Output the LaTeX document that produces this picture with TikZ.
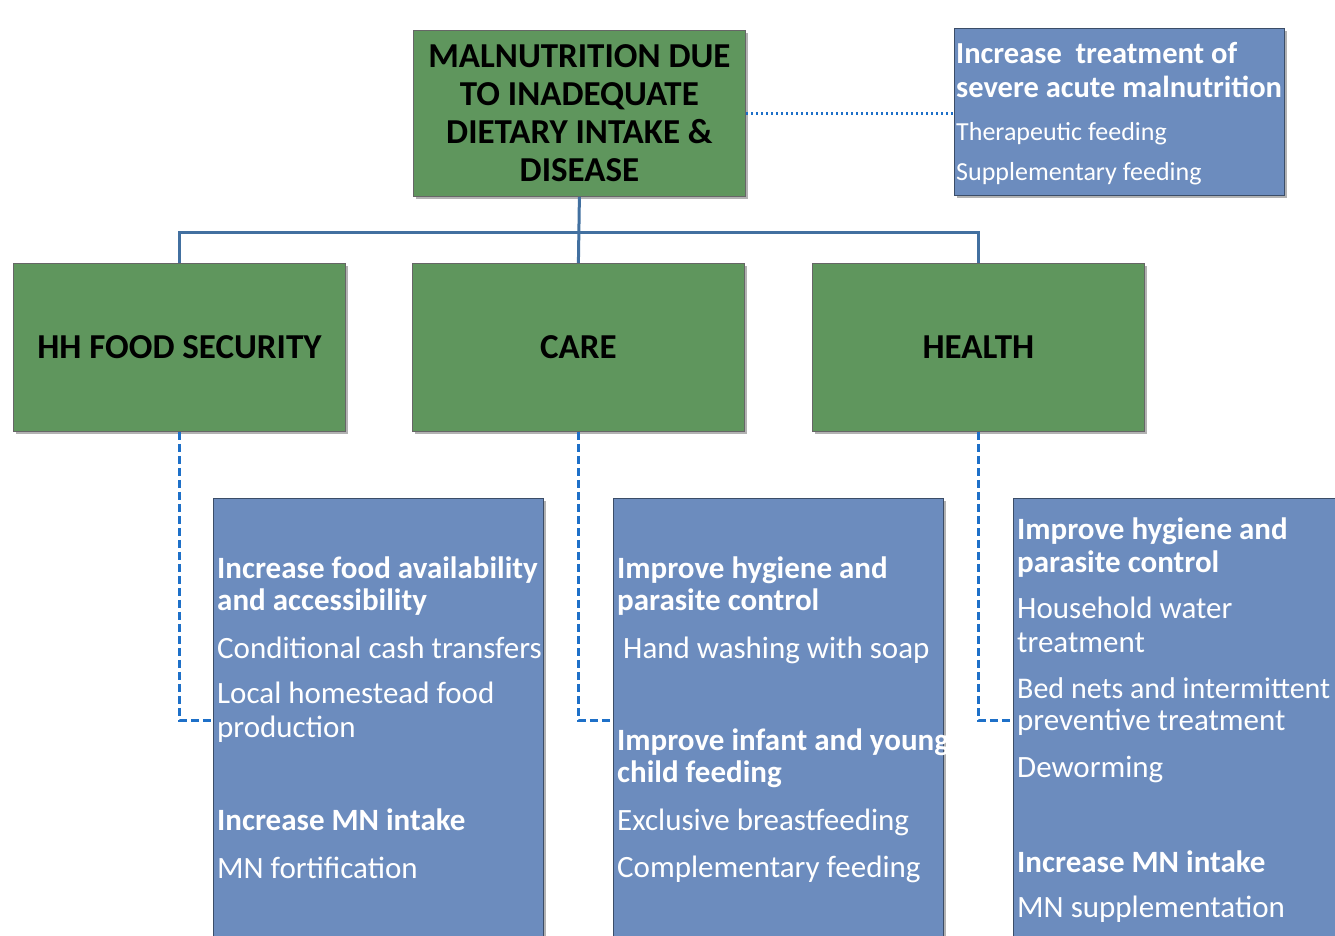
\documentclass[tikz,border=0pt]{standalone}
\usepackage{fontspec}
\setmainfont{Carlito}
\usetikzlibrary{shadows}

\definecolor{boxgreen}{RGB}{95,150,93}
\definecolor{boxblue}{RGB}{108,140,190}
\definecolor{treeline}{RGB}{66,112,160}
\definecolor{linkblue}{RGB}{30,112,200}

\tikzset{
  softshadow/.style={drop shadow={shadow xshift=3pt, shadow yshift=-3pt, fill=black, opacity=0.3}},
  greenbox/.style={draw=black!60, fill=boxgreen, line width=0.8pt, anchor=north west,
    inner sep=0pt, minimum width=332pt, minimum height=168pt, softshadow,
    font=\bfseries\fontsize{35}{38}\selectfont, align=center},
  actbox/.style={draw=black!45!boxblue, fill=boxblue, line width=0.8pt, anchor=north west,
    inner sep=0pt, minimum width=330pt, minimum height=444pt, softshadow},
  hd/.style={anchor=base west, inner sep=0pt, text=white, font=\bfseries\fontsize{31}{36}\selectfont},
  samhd/.style={hd, font=\bfseries\fontsize{30.5}{36}\selectfont},
  it/.style={anchor=base west, inner sep=0pt, text=white, font=\fontsize{31}{36}\selectfont},
  smallit/.style={it, font=\fontsize{26}{31}\selectfont},
  tree/.style={draw=treeline, line width=3pt},
  linkdash/.style={draw=linkblue, line width=3pt, dash pattern=on 8pt off 4pt},
  linkdot/.style={draw=linkblue, line width=3pt, dash pattern=on 2.5pt off 2.5pt}
}

\begin{document}
\begin{tikzpicture}[x=1pt, y=-1pt]
  \useasboundingbox (0,0) rectangle (1335,935);
  \clip (0,0) rectangle (1335,935);

  % top level
  \node[greenbox, minimum height=166pt] (root) at (413,30)
    {MALNUTRITION DUE\\TO INADEQUATE\\DIETARY INTAKE \&\\DISEASE};
  \node[actbox, minimum height=167pt] (sam) at (954,28) {};
  \node[samhd] (samhd1) at (956,63) {Increase~ treatment of};
  \node[samhd] (samhd2) at (956,97) {severe acute malnutrition};
  \node[smallit] (samit1) at (956,140) {Therapeutic feeding};
  \node[smallit] (samit2) at (956,180) {Supplementary feeding};
  \draw[linkdot] (root.east) -- (root.east -| sam.west);

  % three pillars
  \node[greenbox] (hh) at (13,263) {HH FOOD SECURITY};
  \node[greenbox] (care) at (412,263) {CARE};
  \node[greenbox] (health) at (812,263) {HEALTH};

  \coordinate (bus) at (579,232);
  \draw[tree] (root.south) -- (care.north);
  \draw[tree] (hh.north) -- (hh.north |- bus) -- (health.north |- bus) -- (health.north);

  % action boxes
  \node[actbox] (food) at (213,498) {};
  \node[actbox] (hyg) at (613,498) {};
  \node[actbox] (med) at (1013,498) {};

  \draw[linkdash] (hh.south) |- (food.west);
  \draw[linkdash] (care.south) |- (hyg.west);
  \draw[linkdash] (health.south) |- (med.west);

  % HH food security
  \node[hd] (foodhd1) at (217,578) {Increase food availability};
  \node[hd] (foodhd2) at (217,610) {and accessibility};
  \node[it] (foodit1) at (217,658) {Conditional cash transfers};
  \node[it] (foodit2) at (217,703) {Local homestead food};
  \node[it] (foodit3) at (217,737) {production};
  \node[hd] (foodhd3) at (217,830) {Increase MN intake};
  \node[it] (foodit4) at (217,878) {MN fortification};

  % care
  \node[hd] (hyghd1) at (617,578) {Improve hygiene and};
  \node[hd] (hyghd2) at (617,610) {parasite control};
  \node[it] (hygit1) at (623,658) {Hand washing with soap};
  \node[hd] (hyghd3) at (617,750) {Improve infant and young};
  \node[hd] (hyghd4) at (617,782) {child feeding};
  \node[it] (hygit2) at (617,830) {Exclusive breastfeeding};
  \node[it] (hygit3) at (617,877) {Complementary feeding};

  % health
  \node[hd] (medhd1) at (1017,539) {Improve hygiene and};
  \node[hd] (medhd2) at (1017,572) {parasite control};
  \node[it] (medit1) at (1017,618) {Household water};
  \node[it] (medit2) at (1017,652) {treatment};
  \node[it, font=\fontsize{30}{36}\selectfont] (medit3) at (1017,698) {Bed nets and intermittent};
  \node[it] (medit4) at (1017,730) {preventive treatment};
  \node[it] (medit5) at (1017,777) {Deworming};
  \node[hd] (medhd3) at (1017,872) {Increase MN intake};
  \node[it] (medit6) at (1017,917) {MN supplementation};
\end{tikzpicture}
\end{document}
